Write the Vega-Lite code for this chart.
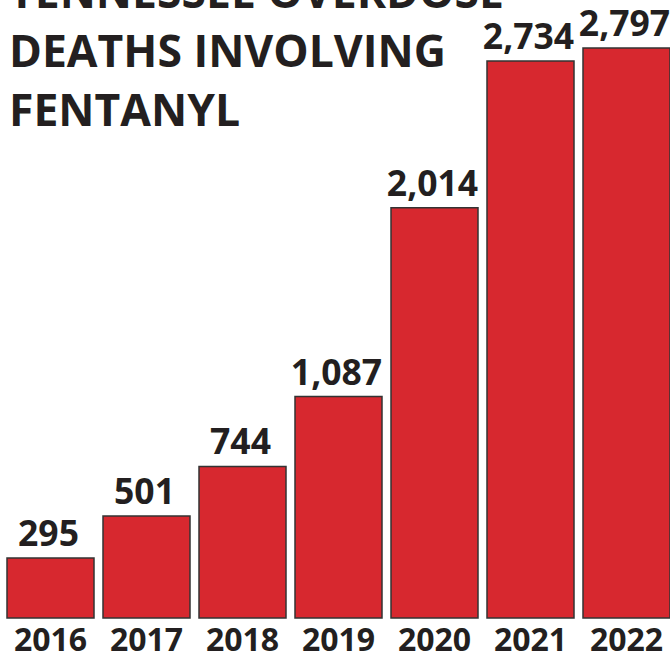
{
  "$schema": "https://vega.github.io/schema/vega-lite/v6.json",
  "autosize": {"type": "none"},
  "width": 663,
  "height": 618,
  "padding": {"left": 7, "top": 0, "right": 0, "bottom": 40},
  "background": "white",
  "title": {
    "text": ["TENNESSEE OVERDOSE", "DEATHS INVOLVING", "FENTANYL"],
    "anchor": "start",
    "frame": "group",
    "orient": "none",
    "offset": 0,
    "baseline": "alphabetic",
    "lineHeight": 59,
    "dy": 8,
    "dx": 2,
    "font": "Open Sans",
    "fontSize": 44.5,
    "fontWeight": "bold",
    "color": "#231f20"
  },
  "data": {
    "values": [
      {"year": "2016", "deaths": 295},
      {"year": "2017", "deaths": 501},
      {"year": "2018", "deaths": 744},
      {"year": "2019", "deaths": 1087},
      {"year": "2020", "deaths": 2014},
      {"year": "2021", "deaths": 2734},
      {"year": "2022", "deaths": 2797}
    ]
  },
  "encoding": {
    "x": {
      "field": "year",
      "type": "ordinal",
      "scale": {"paddingInner": 0.09375, "paddingOuter": 0},
      "axis": {
        "title": null,
        "domain": false,
        "ticks": false,
        "labelAngle": 0,
        "labelFont": "Open Sans",
        "labelFontSize": 32,
        "labelFontWeight": "bold",
        "labelColor": "#231f20",
        "labelPadding": 7
      }
    },
    "y": {
      "field": "deaths",
      "type": "quantitative",
      "scale": {"domain": [0, 3033], "nice": false},
      "axis": null
    }
  },
  "layer": [
    {
      "mark": {"type": "bar", "color": "#d7282f", "stroke": "#333333", "strokeWidth": 1.5}
    },
    {
      "mark": {
        "type": "text",
        "baseline": "alphabetic",
        "dy": -12,
        "dx": -2,
        "font": "Open Sans",
        "fontSize": 35.5,
        "fontWeight": "bold",
        "color": "#231f20"
      },
      "encoding": {
        "text": {"field": "deaths", "type": "quantitative", "format": ","}
      }
    }
  ],
  "config": {"view": {"stroke": null}}
}
